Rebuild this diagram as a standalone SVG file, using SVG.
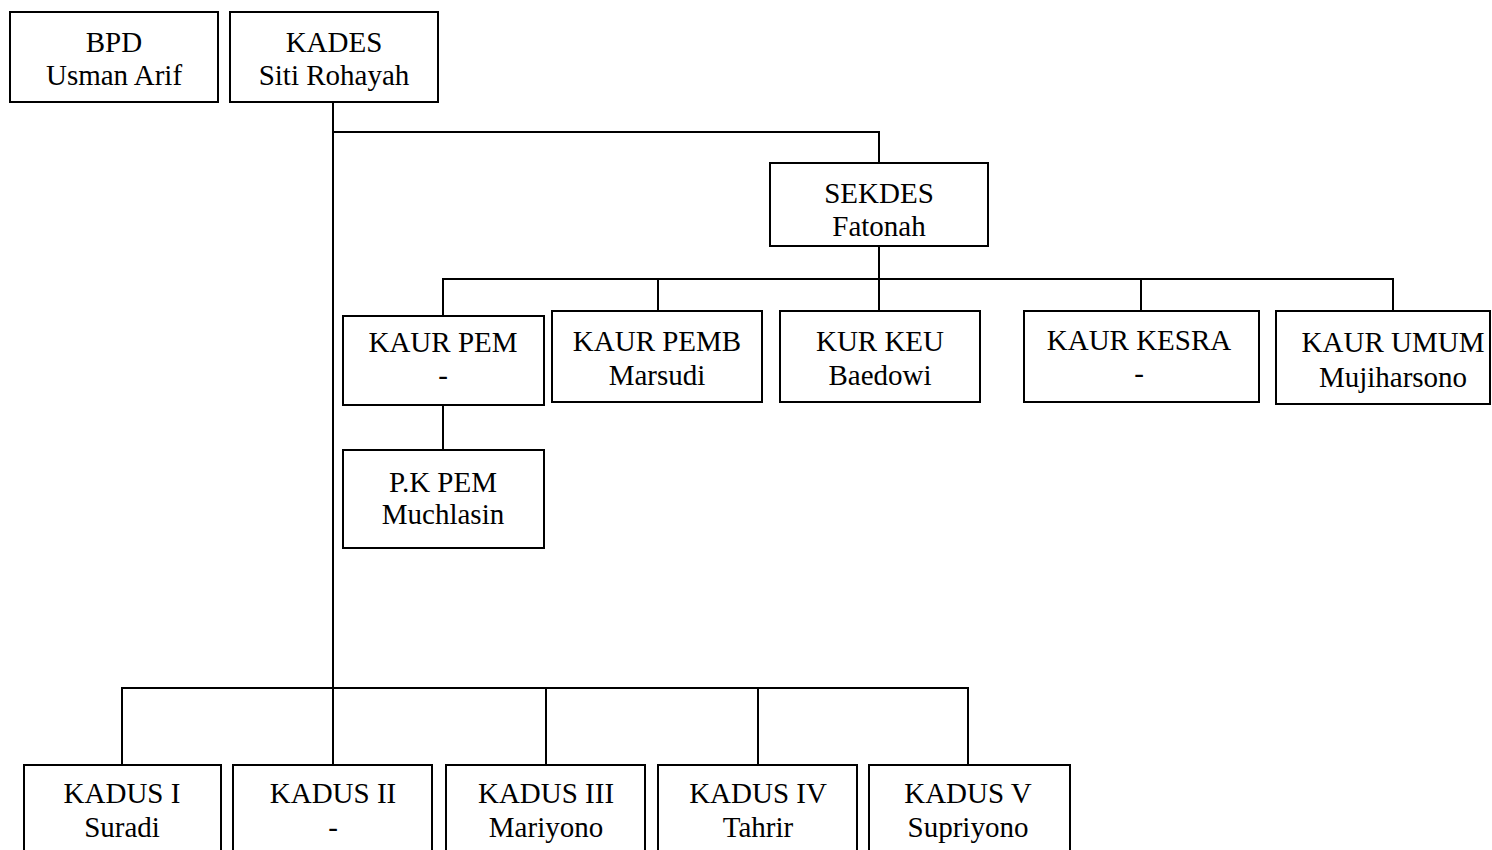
<svg xmlns="http://www.w3.org/2000/svg" width="1492" height="850" viewBox="0 0 1492 850">
<style>
.box{fill:#fff;stroke:#000;stroke-width:2}
.ln{fill:none;stroke:#000;stroke-width:2}
text{font-family:"Liberation Serif","Times New Roman",serif;font-size:29px;fill:#000;text-anchor:middle}
</style>
<rect width="1492" height="850" fill="#fff"/>
<g id="connectors">
<path class="ln" d="M333 102V688"/>
<path class="ln" d="M333 132H879V163"/>
<path class="ln" d="M879 246V311"/>
<path class="ln" d="M443 316V279H1393V311"/>
<path class="ln" d="M658 279V311M1141 279V311"/>
<path class="ln" d="M443 405V450"/>
<path class="ln" d="M122 765V688H968V765"/>
<path class="ln" d="M333 688V765M546 688V765M758 688V765"/>
</g>
<g id="bpd"><rect class="box" x="10" y="12" width="208" height="90"/><text x="114" y="52">BPD</text><text x="114" y="85">Usman Arif</text></g>
<g id="kades"><rect class="box" x="230" y="12" width="208" height="90"/><text x="334" y="52">KADES</text><text x="334" y="85">Siti Rohayah</text></g>
<g id="sekdes"><rect class="box" x="770" y="163" width="218" height="83"/><text x="879" y="203">SEKDES</text><text x="879" y="236">Fatonah</text></g>
<g id="kaur-pem"><rect class="box" x="343" y="316" width="201" height="89"/><text x="443" y="352">KAUR PEM</text><text x="443" y="385">-</text></g>
<g id="kaur-pemb"><rect class="box" x="552" y="311" width="210" height="91"/><text x="657" y="351">KAUR PEMB</text><text x="657" y="385">Marsudi</text></g>
<g id="kur-keu"><rect class="box" x="780" y="311" width="200" height="91"/><text x="880" y="351">KUR KEU</text><text x="880" y="385">Baedowi</text></g>
<g id="kaur-kesra"><rect class="box" x="1024" y="311" width="235" height="91"/><text x="1139" y="350">KAUR KESRA</text><text x="1139" y="383">-</text></g>
<g id="kaur-umum"><rect class="box" x="1276" y="311" width="214" height="93"/><text x="1393" y="352">KAUR UMUM</text><text x="1393" y="387">Mujiharsono</text></g>
<g id="pk-pem"><rect class="box" x="343" y="450" width="201" height="98"/><text x="443" y="492">P.K PEM</text><text x="443" y="524">Muchlasin</text></g>
<g id="kadus-1"><rect class="box" x="24" y="765" width="197" height="100"/><text x="122" y="803">KADUS I</text><text x="122" y="837">Suradi</text></g>
<g id="kadus-2"><rect class="box" x="233" y="765" width="199" height="100"/><text x="333" y="803">KADUS II</text><text x="333" y="837">-</text></g>
<g id="kadus-3"><rect class="box" x="446" y="765" width="199" height="100"/><text x="546" y="803">KADUS III</text><text x="546" y="837">Mariyono</text></g>
<g id="kadus-4"><rect class="box" x="658" y="765" width="199" height="100"/><text x="758" y="803">KADUS IV</text><text x="758" y="837">Tahrir</text></g>
<g id="kadus-5"><rect class="box" x="869" y="765" width="201" height="100"/><text x="968" y="803">KADUS V</text><text x="968" y="837">Supriyono</text></g>
</svg>
